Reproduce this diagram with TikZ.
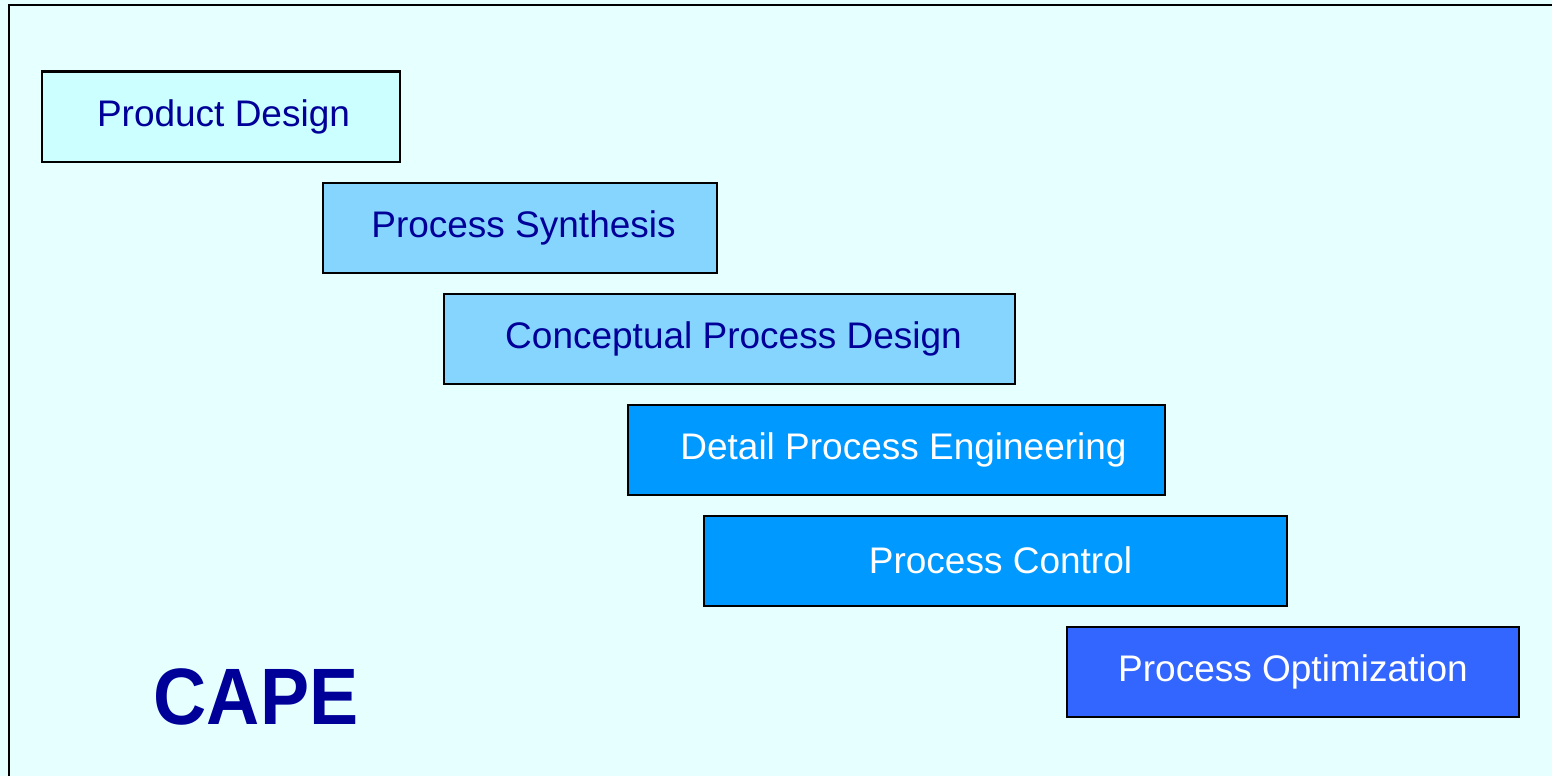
\documentclass[tikz,border=0pt]{standalone}
\usepackage{fontspec}
\setmainfont{Liberation Sans}
\definecolor{bg}{HTML}{E6FFFF}
\definecolor{navy}{HTML}{000099}
\definecolor{fillA}{HTML}{CCFFFF}
\definecolor{fillB}{HTML}{85D5FF}
\definecolor{fillC}{HTML}{0099FF}
\definecolor{fillD}{HTML}{3366FF}
\begin{document}
\begin{tikzpicture}[x=1pt,y=-1pt,
  stage/.style={draw=black, line width=2pt, rectangle, anchor=north west,
    minimum height=90pt, inner sep=0pt, font=\fontsize{37}{44}\selectfont},
  lightstage/.style={stage, text=navy},
  darkstage/.style={stage, text=white}]
\useasboundingbox (0,0) rectangle (1552,776);
\fill[bg] (0,0) rectangle (1552,776);
\draw[line width=2pt] (9,800) -- (9,5) -- (1600,5);
\node[lightstage, fill=fillA, minimum width=358pt] (pd) at (41,70.5) {\hspace*{5pt}Product Design};
\node[lightstage, fill=fillB, minimum width=394pt] (ps) at (322,181.5) {\hspace*{7pt}Process Synthesis};
\node[lightstage, fill=fillB, minimum width=571pt] (cpd) at (443,292.5) {\hspace*{8pt}Conceptual Process Design};
\node[darkstage, fill=fillC, minimum width=537pt] (dpe) at (627,403.5) {\hspace*{14pt}Detail Process Engineering};
\node[darkstage, fill=fillC, minimum width=583pt] (pc) at (703,514.5) {\hspace*{10pt}Process Control};
\node[darkstage, fill=fillD, minimum width=452pt] (po) at (1066,625.5) {Process Optimization};
\node[text=navy, font=\fontsize{80}{90}\selectfont\bfseries, xscale=0.92, inner sep=0pt] (cape) at (256,697) {CAPE};
\end{tikzpicture}
\end{document}
